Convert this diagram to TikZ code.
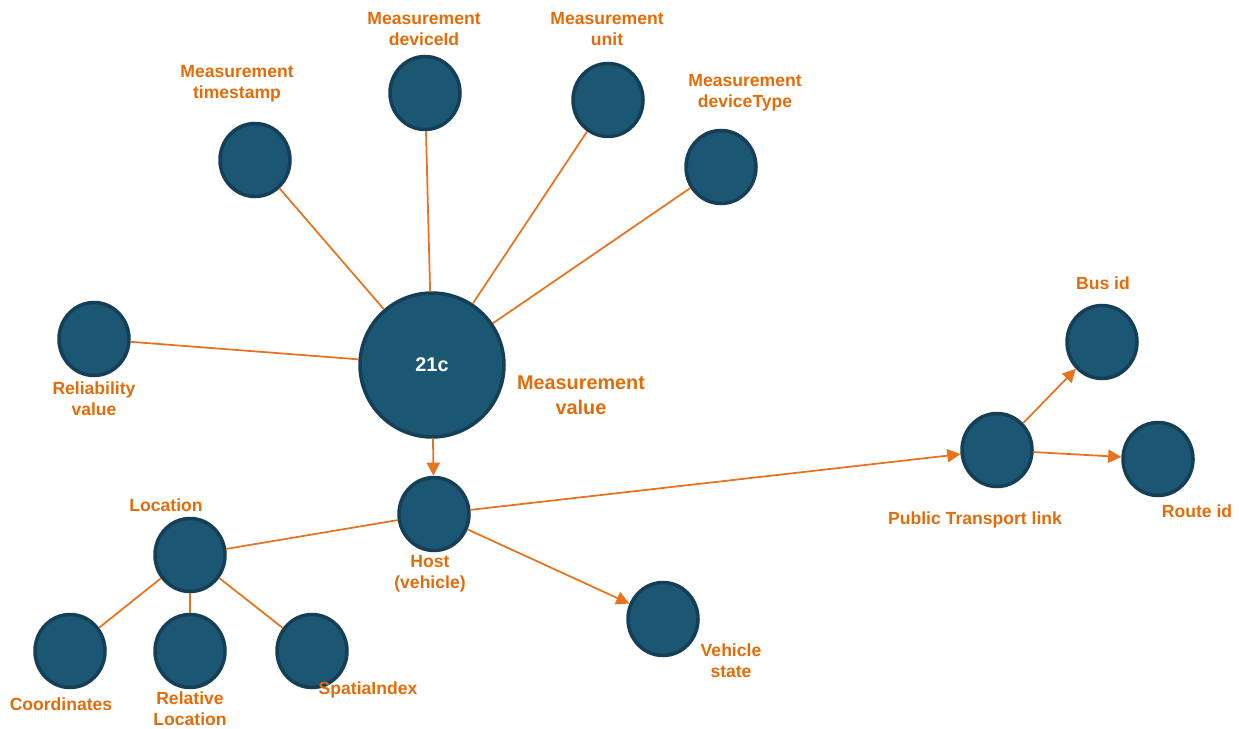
\documentclass[tikz,border=0pt]{standalone}
\usepackage{fontspec}
\setmainfont{Liberation Sans}
\usetikzlibrary{arrows.meta,shapes.geometric}
\definecolor{nodeblue}{HTML}{1B5672}
\definecolor{nodeedge}{HTML}{143F56}
\definecolor{linkorange}{HTML}{E8731F}
\definecolor{textorange}{HTML}{E36C0A}
\tikzset{
  leaf/.style={ellipse, draw=nodeedge, line width=2pt, fill=nodeblue,
    minimum width=1.40cm, minimum height=1.46cm, inner sep=0pt},
  hub/.style={leaf, minimum width=2.88cm, minimum height=2.88cm,
    text=white, font=\bfseries\fontsize{11.3}{13}\selectfont},
  tag/.style={text=textorange, align=center, inner sep=0pt,
    font=\bfseries\fontsize{10}{12}\selectfont},
  bigtag/.style={tag, font=\bfseries\fontsize{11.3}{14}\selectfont},
  link/.style={draw=linkorange, line width=1pt},
  arrowlink/.style={link, -{Triangle[length=7.5pt,width=7.5pt]}}
}
\begin{document}
\begin{tikzpicture}[x=0.02cm, y=-0.02cm]
  \useasboundingbox (0,0) rectangle (1239,729);

  % measurement and its attributes
  \node[hub] (value) at (432,365) {21c};
  \node[bigtag] (valuetag) at (581,395) {Measurement\\value};

  \node[leaf] (stamp) at (255,160) {};
  \node[tag] (stamptag) at (237,84) {Measurement\\timestamp};
  \node[leaf] (device) at (425,93) {};
  \node[tag] (devicetag) at (424,29) {Measurement\\deviceId};
  \node[leaf] (unit) at (608,100) {};
  \node[tag] (unittag) at (607,29) {Measurement\\unit};
  \node[leaf] (devtype) at (721,167) {};
  \node[tag] (devtypetag) at (745,93) {Measurement\\deviceType};
  \node[leaf] (reliab) at (94,339) {};
  \node[tag] (reliabtag) at (94,399) {Reliability\\value};

  % host and location
  \node[leaf] (host) at (434,514) {};
  \node[tag] (hosttag) at (430,574) {Host\\(vehicle)};
  \node[leaf] (loc) at (190,555) {};
  \node[tag] (loctag) at (166,505) {Location};
  \node[leaf] (coord) at (70,651) {};
  \node[tag] (coordtag) at (61,704) {Coordinates};
  \node[leaf] (relloc) at (190,651) {};
  \node[tag] (relloctag) at (190,709) {Relative\\Location};
  \node[leaf] (spatial) at (312,651) {};
  \node[tag] (spatialtag) at (368,690) {SpatiaIndex};
  \node[leaf] (vstate) at (663,619) {};
  \node[tag] (vstatetag) at (731,661) {Vehicle\\state};

  % public transport
  \node[leaf] (ptlink) at (997,450) {};
  \node[tag] (ptlinktag) at (975,520) {Public Transport link};
  \node[leaf] (bus) at (1102,342) {};
  \node[tag] (bustag) at (1103,283) {Bus id};
  \node[leaf] (route) at (1158,459) {};
  \node[tag] (routetag) at (1197,511) {Route id};

  \foreach \leafnode in {stamp, device, unit, devtype, reliab}
    \draw[link] (value) -- (\leafnode);
  \draw[arrowlink] (value) -- (host);
  \draw[link] (host) -- (loc);
  \foreach \leafnode in {coord, relloc, spatial}
    \draw[link] (loc) -- (\leafnode);
  \draw[arrowlink] (host) -- (vstate);
  \draw[arrowlink] (host) -- (ptlink);
  \draw[arrowlink] (ptlink) -- (bus);
  \draw[arrowlink] (ptlink) -- (route);
\end{tikzpicture}
\end{document}
